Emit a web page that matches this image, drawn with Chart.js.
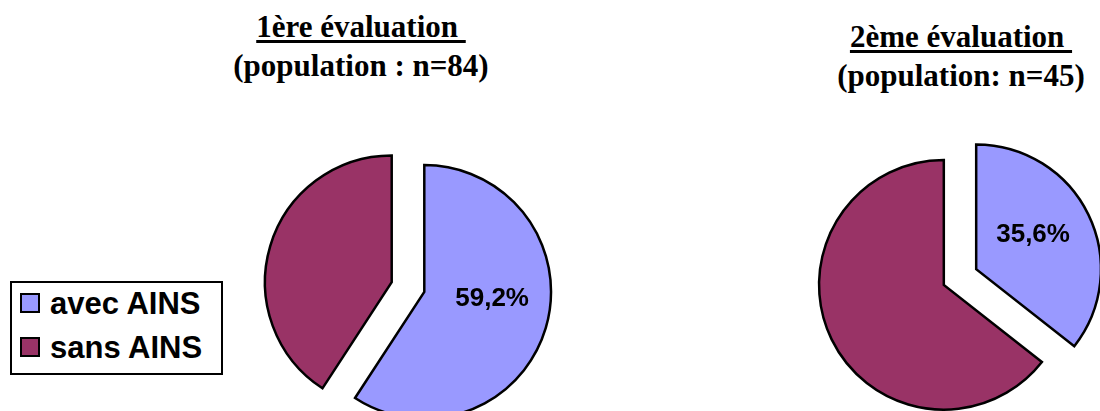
<!DOCTYPE html>
<html>
<head>
<meta charset="utf-8">
<script src="https://cdn.jsdelivr.net/npm/chart.js@4/dist/chart.umd.min.js"></script>
<style>
  html, body { margin: 0; padding: 0; background: #ffffff; overflow: hidden; width: 1100px; height: 411px; }
  #stage { position: relative; width: 1100px; height: 411px; overflow: hidden; }
  .title { position: absolute; width: 400px; text-align: center; font-family: "Liberation Serif", "Times New Roman", serif; font-weight: bold; font-size: 31px; line-height: 39px; color: #000; white-space: nowrap; }
  .title .u { text-decoration: underline; text-decoration-thickness: 2.5px; text-underline-offset: 3px; }
  .pie { position: absolute; }
  #legend { position: absolute; left: 10px; top: 281px; width: 209px; height: 90px; border: 2px solid #000; background: #fff; }
  .item { position: absolute; left: 0; font-family: "Liberation Sans", Arial, sans-serif; font-weight: bold; font-size: 31px; line-height: 31px; color: #000; white-space: nowrap; }
  .swatch { position: absolute; width: 16px; height: 16px; border: 2px solid #000; }
  .ltext { position: absolute; left: 38px; top: 0; }
</style>
</head>
<body>
<div id="stage">
  <div class="title" id="t1" style="left:161px; top:7px;"></div>
  <div class="title" id="t2" style="left:761px; top:17px;"></div>
  <canvas id="pie1" class="pie" width="320" height="320" style="left:248px; top:127px; width:320px; height:320px;"></canvas>
  <canvas id="pie2" class="pie" width="320" height="320" style="left:800px; top:117px; width:320px; height:320px;"></canvas>
  <div id="legend"></div>
</div>
<script>
// ---- data ----
const categories = ['avec AINS', 'sans AINS'];
const eval1Values = [59.2, 40.8];
const eval2Values = [35.6, 64.4];
const eval1Title = ['1ère évaluation', '(population : n=84)'];
const eval2Title = ['2ème évaluation', '(population: n=45)'];
const labelledIndex = 0; // only "avec AINS" slices carry a percentage label

// ---- styles ----
const sliceColors = ['#9999FF', '#993366'];

function fmtPct(v) { return v.toFixed(1).replace('.', ',') + '%'; }

function setTitle(id, lines) {
  const el = document.getElementById(id);
  el.innerHTML = '';
  const l1 = document.createElement('div');
  const u = document.createElement('span');
  u.className = 'u';
  u.textContent = lines[0] + '\u00A0';
  l1.appendChild(u);
  const l2 = document.createElement('div');
  l2.textContent = lines[1];
  el.appendChild(l1);
  el.appendChild(l2);
}
setTitle('t1', eval1Title);
setTitle('t2', eval2Title);

// legend
(function () {
  const lg = document.getElementById('legend');
  const tops = [5, 49];
  categories.forEach((c, i) => {
    const it = document.createElement('div');
    it.className = 'item';
    it.style.top = tops[i] + 'px';
    const sw = document.createElement('div');
    sw.className = 'swatch';
    sw.style.left = '8px';
    sw.style.top = '5px';
    sw.style.background = sliceColors[i];
    const tx = document.createElement('div');
    tx.className = 'ltext';
    tx.textContent = c;
    it.appendChild(sw);
    it.appendChild(tx);
    lg.appendChild(it);
  });
})();

// plugin: draws each slice pushed outward (exploded pie) and the percentage label
const explodePlugin = {
  id: 'explode',
  beforeDatasetDraw(chart, args, opts) {
    const ctx = chart.ctx;
    const dist = opts.distance || 0;
    args.meta.data.forEach((arc) => {
      const mid = (arc.startAngle + arc.endAngle) / 2;
      ctx.save();
      ctx.translate(Math.cos(mid) * dist, Math.sin(mid) * dist);
      arc.draw(ctx, chart.chartArea);
      ctx.restore();
    });
    return false;
  },
  afterDatasetsDraw(chart, args, opts) {
    const ctx = chart.ctx;
    const dist = opts.distance || 0;
    const meta = chart.getDatasetMeta(0);
    const arc = meta.data[labelledIndex];
    const value = chart.data.datasets[0].data[labelledIndex];
    const mid = (arc.startAngle + arc.endAngle) / 2;
    const cx = arc.x + Math.cos(mid) * dist;
    const cy = arc.y + Math.sin(mid) * dist;
    const r = arc.outerRadius;
    ctx.save();
    ctx.font = 'bold 26px "Liberation Sans", Arial, sans-serif';
    ctx.fillStyle = '#000';
    ctx.textAlign = 'center';
    ctx.textBaseline = 'alphabetic';
    ctx.fillText(fmtPct(value), cx + r * opts.labelX, cy + r * opts.labelY);
    ctx.restore();
  }
};

function makePie(id, values, padding, distance, labelX, labelY) {
  return new Chart(document.getElementById(id), {
    type: 'pie',
    data: {
      labels: categories,
      datasets: [{
        data: values,
        backgroundColor: sliceColors,
        borderColor: '#000000',
        borderWidth: 2.5,
        borderJoinStyle: 'miter'
      }]
    },
    options: {
      responsive: false,
      animation: false,
      events: [],
      layout: { padding: padding },
      plugins: {
        legend: { display: false },
        tooltip: { enabled: false },
        title: { display: false },
        explode: { distance: distance, labelX: labelX, labelY: labelY }
      }
    },
    plugins: [explodePlugin]
  });
}

makePie('pie1', eval1Values, 32, 17, 0.535, 0.11);
makePie('pie2', eval2Values, 34, 18, 0.456, -0.216);
</script>
</body>
</html>
